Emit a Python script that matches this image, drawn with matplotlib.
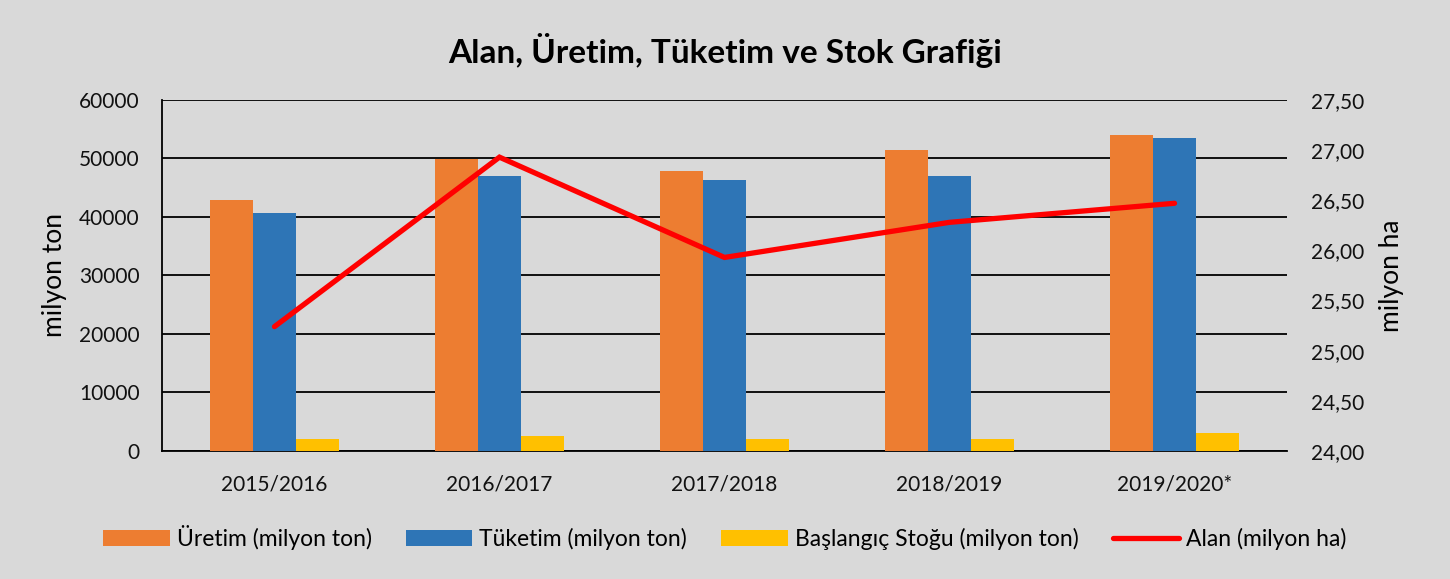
import numpy as np
import matplotlib
matplotlib.use("Agg")
import matplotlib.pyplot as plt
from matplotlib import rcParams

rcParams['font.family'] = ['Lato', 'DejaVu Sans']

# data
seasons = ['2015/2016', '2016/2017', '2017/2018', '2018/2019', '2019/2020*']
uretim = [42950, 49900, 47850, 51400, 54100]     # milyon ton
tuketim = [40750, 47000, 46250, 46950, 53450]    # milyon ton
stok = [2100, 2500, 2050, 2050, 3050]            # milyon ton
alan = [25.24, 26.93, 25.93, 26.28, 26.47]       # milyon ha

bg = '#D9D9D9'
fig = plt.figure(figsize=(14.5, 5.79), dpi=100, facecolor=bg)
ax = fig.add_axes([0.1117, 0.2211, 0.7759, 0.6062], facecolor=bg)

x = np.arange(len(seasons))
w = 0.19
ax.bar(x - w, uretim, w, color='#ED7D31', label='Üretim (milyon ton)', zorder=3)
ax.bar(x, tuketim, w, color='#2E75B6', label='Tüketim (milyon ton)', zorder=3)
ax.bar(x + w, stok, w, color='#FFC000', label='Başlangıç Stoğu (milyon ton)', zorder=3)

ax.set_xlim(-0.5, len(seasons) - 0.5)
ax.set_ylim(0, 60000)
ax.set_yticks(np.arange(0, 60001, 10000))
ax.set_xticks(x)
ax.set_xticklabels(seasons)
ax.yaxis.grid(True, color='black', lw=1.3, zorder=0)
ax.set_axisbelow(True)
for s in ['top', 'right']:
    ax.spines[s].set_visible(False)
ax.spines['left'].set_linewidth(1.3)
ax.spines['bottom'].set_linewidth(1.3)
ax.tick_params(axis='both', length=0, labelsize=15, colors='#111111')
ax.tick_params(axis='x', pad=17)
ax.tick_params(axis='y', pad=16)
ax.set_ylabel('milyon ton', fontsize=19, labelpad=9)

ax2 = ax.twinx()
ax2.plot(x, alan, color='#FF0000', lw=3.8, solid_capstyle='round',
         solid_joinstyle='miter', label='Alan (milyon ha)', zorder=5)
ax2.set_ylim(24, 27.5)
ax2.set_yticks(np.arange(24, 27.51, 0.5))
ax2.set_yticklabels([f'{v:.2f}'.replace('.', ',') for v in np.arange(24, 27.51, 0.5)])
for s in ax2.spines.values():
    s.set_visible(False)
ax2.tick_params(axis='y', length=0, labelsize=15, colors='#111111', pad=17)
ax2.set_ylabel('milyon ha', fontsize=19, labelpad=11)

h1, l1 = ax.get_legend_handles_labels()
h2, l2 = ax2.get_legend_handles_labels()
fig.legend(h1 + h2, l1 + l2, loc='center', bbox_to_anchor=(0.5, 0.072), ncol=4,
           frameon=False, fontsize=16.5, handlelength=2.9, handleheight=0.7,
           handletextpad=0.3, columnspacing=1.5)

fig.text(0.5, 0.913, 'Alan, Üretim, Tüketim ve Stok Grafiği', ha='center', va='center',
         fontsize=24, fontweight='bold')

fig.savefig('out.png', dpi=100, facecolor=bg)
